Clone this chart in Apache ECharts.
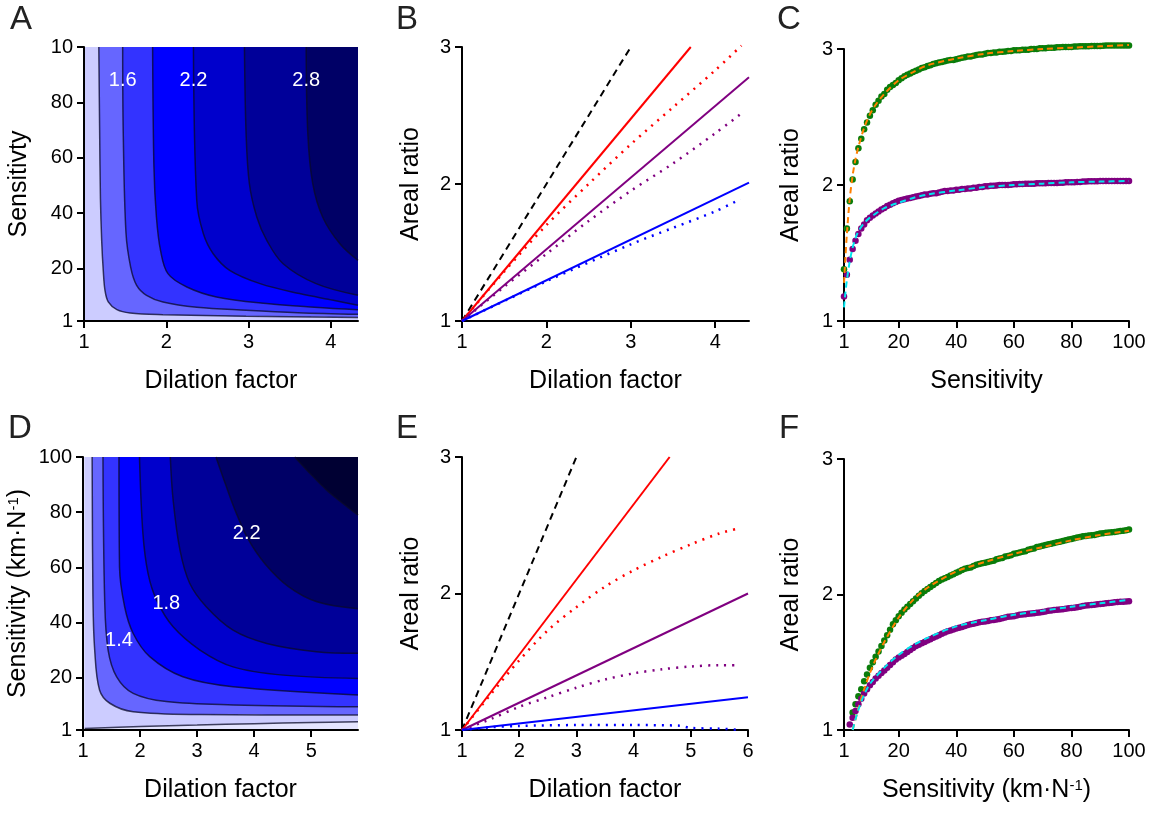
<!DOCTYPE html>
<html>
<head>
<meta charset="utf-8">
<script src="https://cdn.jsdelivr.net/npm/echarts@6/dist/echarts.min.js"></script>
<style>
html,body{margin:0;padding:0;background:#fff;}
#chart{width:1163px;height:814px;}
</style>
</head>
<body>
<div id="chart"></div>
<script>
// ---------------- DATA ----------------
// Panel A contour lines (dilation factor, sensitivity), levels 1.3 .. 2.8
const A_c13 = [[1.18,100],[1.19,70],[1.20,45],[1.215,30],[1.234,19.3],[1.255,12.1],[1.295,7.9],[1.40,5.1],[1.56,3.9],[1.96,3.3],[2.97,2.7],[4.33,2.3]];
const A_c16 = [[1.47,100],[1.477,69],[1.51,33],[1.567,20.5],[1.64,13.9],[1.76,10.3],[1.96,7.9],[2.37,6.0],[2.97,4.9],[3.6,4.0],[4.33,3.4]];
const A_c19 = [[1.834,100],[1.85,56.6],[1.88,38.6],[1.93,26.5],[2.02,18.1],[2.25,13.3],[2.61,9.7],[3.22,7.3],[3.8,6.0],[4.33,5.1]];
const A_c22 = [[2.33,100],[2.37,44.6],[2.45,32.6],[2.57,25.3],[2.77,19.3],[3.14,14.5],[3.62,10.9],[4.03,8.5],[4.33,6.7]];
const A_c25 = [[2.95,100],[2.97,68.7],[3.01,50.6],[3.10,38.6],[3.22,30.2],[3.42,21.7],[3.82,14.5],[4.33,10.3]];
const A_c28 = [[3.70,100],[3.72,68.7],[3.78,50.6],[3.90,38.6],[4.11,28.9],[4.33,22.9]];
const A_labels = [[1.47,88,'1.6'],[2.33,88,'2.2'],[3.70,88,'2.8']];

// Panel D contour lines, levels 1.0 .. 2.4
const D_c10 = [[1.03,1.5],[2,2.3],[3,2.8],[4,3.3],[5,3.7],[5.82,4.0]];
const D_c12 = [[1.16,100],[1.175,48],[1.205,30],[1.29,15.5],[1.47,10.7],[1.88,7.6],[3.05,6.6],[5.82,6.4]];
const D_c14 = [[1.35,100],[1.38,48],[1.44,30],[1.59,20.3],[1.88,14.3],[2.46,11.3],[3.63,10.1],[5.82,9.4]];
const D_c16 = [[1.63,100],[1.64,60],[1.73,45.7],[1.88,36],[2.17,27.6],[2.75,20.3],[3.63,16.7],[5.82,13.7]];
const D_c18 = [[1.99,100],[2.05,72.3],[2.14,57.8],[2.29,48.1],[2.58,38.4],[3.05,30],[3.63,23.9],[4.51,20.9],[5.82,19.7]];
const D_c20 = [[2.53,100],[2.58,84.3],[2.70,66.2],[2.87,54.2],[3.16,45.7],[3.63,37.2],[4.22,32.4],[5.09,29.4],[5.82,28.8]];
const D_c22 = [[3.33,100],[3.5,90],[3.68,80],[3.9,70],[4.2,61],[4.6,53],[5.1,47.5],[5.82,45]];
const D_c24 = [[4.71,100],[4.98,94],[5.27,88],[5.56,83.1],[5.82,78.9]];
const D_labels = [[1.63,33.6,'1.4'],[2.46,46.9,'1.8'],[3.87,72.3,'2.2']];

// Panel B (dilation factor vs areal ratio)
const B_black = [[1,1],[3,3]];
const B_redSolid = [[1,1],[3.71,3]];
const B_redDot = [[1,1],[1.5,1.36],[2,1.70],[2.5,2.0],[3,2.29],[3.5,2.56],[4,2.83],[4.31,3.01]];
const B_purpleSolid = [[1,1],[4.4,2.78]];
const B_purpleDot = [[1,1],[1.5,1.25],[2,1.49],[2.5,1.73],[3,1.95],[3.5,2.15],[4,2.37],[4.3,2.51]];
const B_blueSolid = [[1,1],[4.4,2.01]];
const B_blueDot = [[1,1],[2,1.29],[3,1.56],[3.5,1.68],[4,1.80],[4.3,1.89]];

// Panel E
const E_black = [[1,1],[3,3]];
const E_redSolid = [[1,1],[4.63,3]];
const E_redDot = [[1,1],[1.5,1.26],[2,1.51],[2.5,1.73],[3,1.90],[3.5,2.05],[4,2.17],[4.5,2.27],[5,2.36],[5.5,2.44],[5.86,2.48]];
const E_purpleSolid = [[1,1],[6,2.0]];
const E_purpleDot = [[1,1],[1.5,1.08],[2,1.17],[2.5,1.24],[3,1.31],[3.5,1.37],[4,1.415],[4.5,1.445],[5,1.465],[5.5,1.475],[5.86,1.475]];
const E_blueSolid = [[1,1],[6,1.24]];
const E_blueDot = [[1,1],[1.5,1.02],[2,1.03],[3,1.036],[4,1.036],[4.8,1.032],[5,1.015],[5.5,1.01],[5.86,1.0]];

// Panels C and F: sensitivity samples 1..100
const sensitivity = [1,2,3,4,5,6,7,8,9,10,11,12,13,14,15,16,17,18,19,20,21,22,23,24,25,26,27,28,29,30,31,32,33,34,35,36,37,38,39,40,41,42,43,44,45,46,47,48,49,50,51,52,53,54,55,56,57,58,59,60,61,62,63,64,65,66,67,68,69,70,71,72,73,74,75,76,77,78,79,80,81,82,83,84,85,86,87,88,89,90,91,92,93,94,95,96,97,98,99,100];
const C_green = [1.38,1.68,1.88,2.04,2.17,2.27,2.34,2.41,2.46,2.51,2.55,2.59,2.62,2.65,2.67,2.70,2.72,2.735,2.75,2.77,2.785,2.80,2.81,2.82,2.83,2.84,2.85,2.86,2.865,2.875,2.88,2.89,2.895,2.90,2.905,2.91,2.915,2.92,2.92,2.925,2.93,2.935,2.94,2.945,2.945,2.95,2.955,2.96,2.96,2.965,2.97,2.97,2.975,2.975,2.98,2.98,2.982,2.985,2.985,2.99,2.99,2.99,2.995,2.995,2.995,3.0,3.0,3.0,3.005,3.005,3.005,3.01,3.01,3.01,3.012,3.012,3.015,3.015,3.015,3.015,3.018,3.018,3.02,3.02,3.02,3.02,3.022,3.022,3.022,3.022,3.024,3.025,3.025,3.025,3.025,3.025,3.025,3.025,3.025,3.025];
const C_purple = [1.18,1.34,1.45,1.53,1.59,1.64,1.68,1.71,1.74,1.76,1.775,1.79,1.805,1.82,1.83,1.845,1.855,1.865,1.875,1.885,1.89,1.895,1.90,1.905,1.91,1.915,1.92,1.925,1.93,1.93,1.935,1.94,1.94,1.945,1.95,1.955,1.955,1.96,1.96,1.965,1.965,1.97,1.97,1.975,1.975,1.98,1.98,1.985,1.985,1.99,1.99,1.995,1.995,1.997,2.0,2.0,2.0,2.0,2.002,2.005,2.005,2.007,2.007,2.01,2.01,2.01,2.01,2.012,2.012,2.012,2.013,2.015,2.015,2.015,2.015,2.017,2.017,2.02,2.02,2.02,2.02,2.022,2.022,2.025,2.025,2.027,2.027,2.028,2.028,2.03,2.03,2.03,2.03,2.03,2.03,2.03,2.03,2.03,2.03,2.03];
const C_orangeFit = [[1,1.28],[1.5,1.47],[2,1.64],[3,1.90],[4,2.07],[5,2.19],[6,2.28],[8,2.42],[10,2.52],[12,2.59],[15,2.67],[20,2.77],[25,2.83],[30,2.88],[40,2.93],[50,2.965],[60,2.985],[70,3.0],[80,3.01],[90,3.02],[100,3.03]];
const C_cyanFit = [[1,1.10],[1.5,1.21],[2,1.30],[3,1.44],[4,1.54],[5,1.61],[6,1.66],[8,1.72],[10,1.76],[12,1.79],[15,1.83],[20,1.87],[25,1.905],[30,1.93],[40,1.96],[50,1.985],[60,2.0],[70,2.01],[80,2.02],[90,2.025],[100,2.03]];

const F_green = [null,null,null,1.13,1.19,1.25,1.30,1.36,1.41,1.46,1.50,1.54,1.58,1.62,1.66,1.70,1.74,1.78,1.81,1.84,1.865,1.89,1.91,1.93,1.95,1.97,1.99,2.01,2.025,2.04,2.055,2.07,2.085,2.10,2.11,2.12,2.13,2.14,2.15,2.16,2.17,2.18,2.19,2.195,2.20,2.21,2.22,2.225,2.23,2.235,2.24,2.245,2.25,2.26,2.265,2.27,2.28,2.285,2.29,2.30,2.305,2.31,2.315,2.32,2.33,2.335,2.34,2.35,2.355,2.36,2.365,2.37,2.375,2.38,2.385,2.39,2.395,2.40,2.405,2.41,2.415,2.42,2.425,2.43,2.432,2.435,2.438,2.44,2.445,2.45,2.452,2.455,2.458,2.46,2.462,2.465,2.468,2.47,2.475,2.48];
const F_purple = [null,null,1.04,1.09,1.14,1.19,1.23,1.27,1.30,1.33,1.355,1.38,1.40,1.42,1.44,1.46,1.48,1.50,1.52,1.535,1.548,1.56,1.575,1.59,1.605,1.62,1.63,1.64,1.65,1.66,1.67,1.68,1.69,1.70,1.71,1.72,1.728,1.735,1.742,1.75,1.755,1.76,1.768,1.775,1.78,1.785,1.79,1.795,1.798,1.80,1.805,1.81,1.812,1.815,1.82,1.825,1.83,1.835,1.838,1.84,1.845,1.85,1.852,1.855,1.858,1.86,1.862,1.865,1.868,1.87,1.875,1.88,1.882,1.885,1.888,1.89,1.892,1.895,1.898,1.90,1.902,1.905,1.91,1.915,1.918,1.92,1.922,1.925,1.928,1.93,1.932,1.935,1.938,1.94,1.942,1.945,1.946,1.947,1.948,1.95];
const F_orangeFit = [[4,1.0],[5,1.08],[6,1.16],[8,1.30],[10,1.42],[12,1.52],[15,1.65],[20,1.83],[25,1.96],[30,2.05],[40,2.17],[50,2.24],[60,2.30],[70,2.35],[80,2.40],[90,2.44],[100,2.47]];
const F_cyanFit = [[4,1.0],[5,1.08],[6,1.15],[8,1.26],[10,1.34],[15,1.46],[20,1.555],[25,1.625],[30,1.68],[40,1.765],[50,1.81],[60,1.85],[70,1.88],[80,1.91],[90,1.935],[100,1.96]];

// Tick values
const dilTicksAB = [1,2,3,4];
const dilTicksD = [1,2,3,4,5];
const dilTicksE = [1,2,3,4,5,6];
const sensTicks = [1,20,40,60,80,100];
const ratioTicks = [1,2,3];
const panelLetters = ['A','B','C','D','E','F'];

// ---------------- CHART ----------------
const FONT = '"Liberation Sans", Arial, Helvetica, sans-serif';
const chart = echarts.init(document.getElementById('chart'), null, {renderer:'canvas'});

const grids = [
  {left:84, top:47, width:274, height:274},
  {left:462, top:47, width:287, height:274},
  {left:844, top:49, width:285, height:272},
  {left:83, top:457, width:275, height:273},
  {left:462, top:457, width:286, height:273},
  {left:844, top:459, width:285, height:271}
];

function axis(gi, vals, fmt, extra){
  const a = Object.assign({
    type:'value', gridIndex:gi,
    axisLine:{show:true, onZero:false, lineStyle:{color:'#000', width:2}},
    axisTick:{show:true, inside:false, length:7, lineStyle:{color:'#000', width:2}, customValues:vals},
    axisLabel:{color:'#000', fontSize:20, fontFamily:FONT, margin:11, customValues:vals},
    splitLine:{show:false},
    nameLocation:'middle',
    nameTextStyle:{color:'#000', fontSize:25, fontFamily:FONT}
  }, extra);
  if (fmt) a.axisLabel.formatter = fmt;
  return a;
}

const supRich = { sup:{fontSize:15, fontFamily:FONT, color:'#000', verticalAlign:'top', padding:[0,0,10,0]} };

const xAxes = [
  axis(0,dilTicksAB,null,{min:1,max:4.33,name:'Dilation factor',nameGap:48}),
  axis(1,dilTicksAB,null,{min:1,max:4.4,name:'Dilation factor',nameGap:48}),
  axis(2,sensTicks,null,{min:1,max:100,name:'Sensitivity',nameGap:48}),
  axis(3,dilTicksD,null,{min:1,max:5.82,name:'Dilation factor',nameGap:48}),
  axis(4,dilTicksE,null,{min:1,max:6,name:'Dilation factor',nameGap:48}),
  axis(5,sensTicks,null,{min:1,max:100,name:'Sensitivity (km·N{sup|-1})',nameGap:48})
];
xAxes[5].nameTextStyle.rich = supRich;

const yAxes = [
  axis(0,sensTicks,v=> v===100 ? '10' : String(v),{min:1,max:100,name:'Sensitivty',nameGap:52}),
  axis(1,ratioTicks,null,{min:1,max:3,name:'Areal ratio',nameGap:38}),
  axis(2,ratioTicks,null,{min:1,max:3,name:'Areal ratio',nameGap:40}),
  axis(3,sensTicks,null,{min:1,max:100,name:'Sensitivity (km·N{sup|-1})',nameGap:52}),
  axis(4,ratioTicks,null,{min:1,max:3,name:'Areal ratio',nameGap:38}),
  axis(5,ratioTicks,null,{min:1,max:3,name:'Areal ratio',nameGap:40})
];
yAxes[3].nameTextStyle.rich = supRich;

const series = [];
function contour(gi, data, fill){
  series.push({type:'line', xAxisIndex:gi, yAxisIndex:gi, data:data, symbol:'none', smooth:0.35,
    lineStyle:{color:'rgba(10,10,40,0.75)', width:1.5},
    areaStyle:{color:fill, opacity:1, origin:'end'}, silent:true, z:2});
}
function labels(gi, data){
  series.push({type:'scatter', xAxisIndex:gi, yAxisIndex:gi, data:data, symbolSize:0,
    itemStyle:{color:'#ffffff', opacity:1}, silent:true, z:6,
    label:{show:true, position:'inside', formatter:p=>p.data[2], color:'#ffffff', opacity:1,
      textBorderWidth:0, textShadowBlur:0, fontSize:20, fontFamily:FONT}});
}
function line(gi, data, color, type, width, noClip, z){
  series.push({type:'line', xAxisIndex:gi, yAxisIndex:gi, data:data, symbol:'none', smooth: data.length>2 ? 0.3 : false,
    clip: !noClip, z: z || 3,
    lineStyle:{color:color, width:width||2, type:type||'solid', cap:'butt'}, silent:true});
}
function dots(gi, ys, color){
  const data = [];
  ys.forEach((y,i)=>{ if (y !== null) data.push([sensitivity[i], y]); });
  series.push({type:'scatter', xAxisIndex:gi, yAxisIndex:gi, data:data, symbol:'circle', symbolSize:6.5,
    clip:false, itemStyle:{color:color, opacity:1}, silent:true, z:3});
}

// A
[A_c13,A_c16,A_c19,A_c22,A_c25,A_c28].forEach((c,i)=>contour(0,c,['#6666ff','#3333ff','#0000ff','#0000cc','#000099','#000066'][i]));
labels(0, A_labels);
// D
[D_c10,D_c12,D_c14,D_c16,D_c18,D_c20,D_c22,D_c24].forEach((c,i)=>contour(3,c,['#ccccff','#6666ff','#3333ff','#0000ff','#0000cc','#000099','#000066','#000033'][i]));
labels(3, D_labels);

const DOT = [2,6];
// B
line(1,B_black,'#000',[7,5]);
line(1,B_redSolid,'#ff0000');
line(1,B_redDot,'#ff0000',DOT,2.5,true);
line(1,B_purpleSolid,'#800080');
line(1,B_purpleDot,'#800080',DOT,2.5);
line(1,B_blueSolid,'#0000ff');
line(1,B_blueDot,'#0000ff',DOT,2.5);
// E
line(4,E_black,'#000',[7,5]);
line(4,E_redSolid,'#ff0000');
line(4,E_redDot,'#ff0000',DOT,2.5);
line(4,E_purpleSolid,'#800080');
line(4,E_purpleDot,'#800080',DOT,2.5);
line(4,E_blueSolid,'#0000ff');
line(4,E_blueDot,'#0000ff',DOT,2.5);
// C
dots(2,C_green,'#0a7d0a');
dots(2,C_purple,'#800080');
line(2,C_orangeFit,'#ff8000',[6,4],2,true,5);
line(2,C_cyanFit,'#00e5ee',[6,4],2,true,5);
// F
dots(5,F_green,'#0a7d0a');
dots(5,F_purple,'#800080');
line(5,F_orangeFit,'#ff8000',[6,4],2,false,5);
line(5,F_cyanFit,'#00e5ee',[6,4],2,false,5);

const letterPos = [[10,3],[396,3],[777,3],[8,412],[396,412],[779,412]];
const graphic = panelLetters.map((t,i)=>({type:'text', left:letterPos[i][0], top:letterPos[i][1],
  style:{text:t, fontSize:33, fontFamily:FONT, fill:'#222'}}));

grids[0].show = true; grids[0].backgroundColor = '#ccccff'; grids[0].borderWidth = 0;
grids[3].show = true; grids[3].backgroundColor = '#e4e4ff'; grids[3].borderWidth = 0;

chart.setOption({
  animation:false,
  textStyle:{fontFamily:FONT},
  grid:grids,
  xAxis:xAxes,
  yAxis:yAxes,
  series:series,
  graphic:graphic
});
</script>
</body>
</html>
